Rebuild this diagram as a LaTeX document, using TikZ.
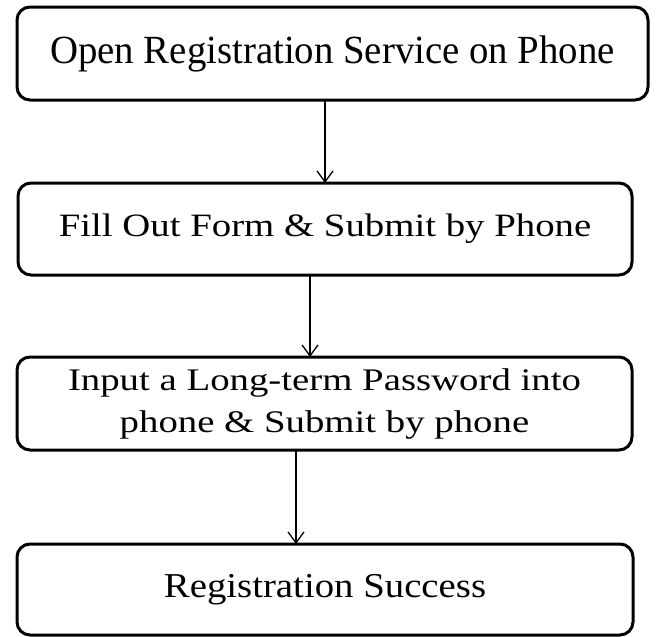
\documentclass[tikz,border=0pt]{standalone}
\usepackage{fontspec}
\setmainfont{Liberation Serif}
\usetikzlibrary{arrows.meta}

\tikzset{
  stepbox/.style={draw=black, line width=3pt, rounded corners=13pt,
    inner sep=0pt, outer sep=0pt, fill=white,
    font=\fontsize{38.8}{51.9}\selectfont},
  flow/.style={draw=black, line width=1.3pt,
    -{Straight Barb[length=11pt,width=16pt,line width=1.3pt]}}
}

\begin{document}
\begin{tikzpicture}[x=1pt,y=1pt]
  \useasboundingbox (0,0) rectangle (656,-637);

  % process steps
  \node[stepbox, minimum width=631, minimum height=93] (open) at (332.5,-53.5)
    {\raisebox{-3pt}{\scalebox{1}[1.03]{Open Registration Service on Phone}}};
  \node[stepbox, minimum width=614, minimum height=92] (fill) at (325,-229)
    {\scalebox{1}[0.84]{Fill Out Form \& Submit by Phone}};
  \node[stepbox, minimum width=615, minimum height=93] (pwd) at (324.5,-403.5)
    {\raisebox{-3pt}{\scalebox{1}[0.81]{\begin{tabular}{@{}c@{}}Input a Long-term Password into\\ phone \& Submit by phone\end{tabular}}}};
  \node[stepbox, minimum width=616, minimum height=91] (done) at (325,-589.5)
    {\scalebox{1}[0.9]{Registration Success}};

  % connector columns
  \coordinate (c1) at (325,0);
  \coordinate (c2) at (310,0);
  \coordinate (c3) at (296,0);

  \draw[flow] (open.south -| c1) -- (fill.north -| c1);
  \draw[flow] (fill.south -| c2) -- (pwd.north -| c2);
  \draw[flow] (pwd.south -| c3) -- (done.north -| c3);
\end{tikzpicture}
\end{document}
